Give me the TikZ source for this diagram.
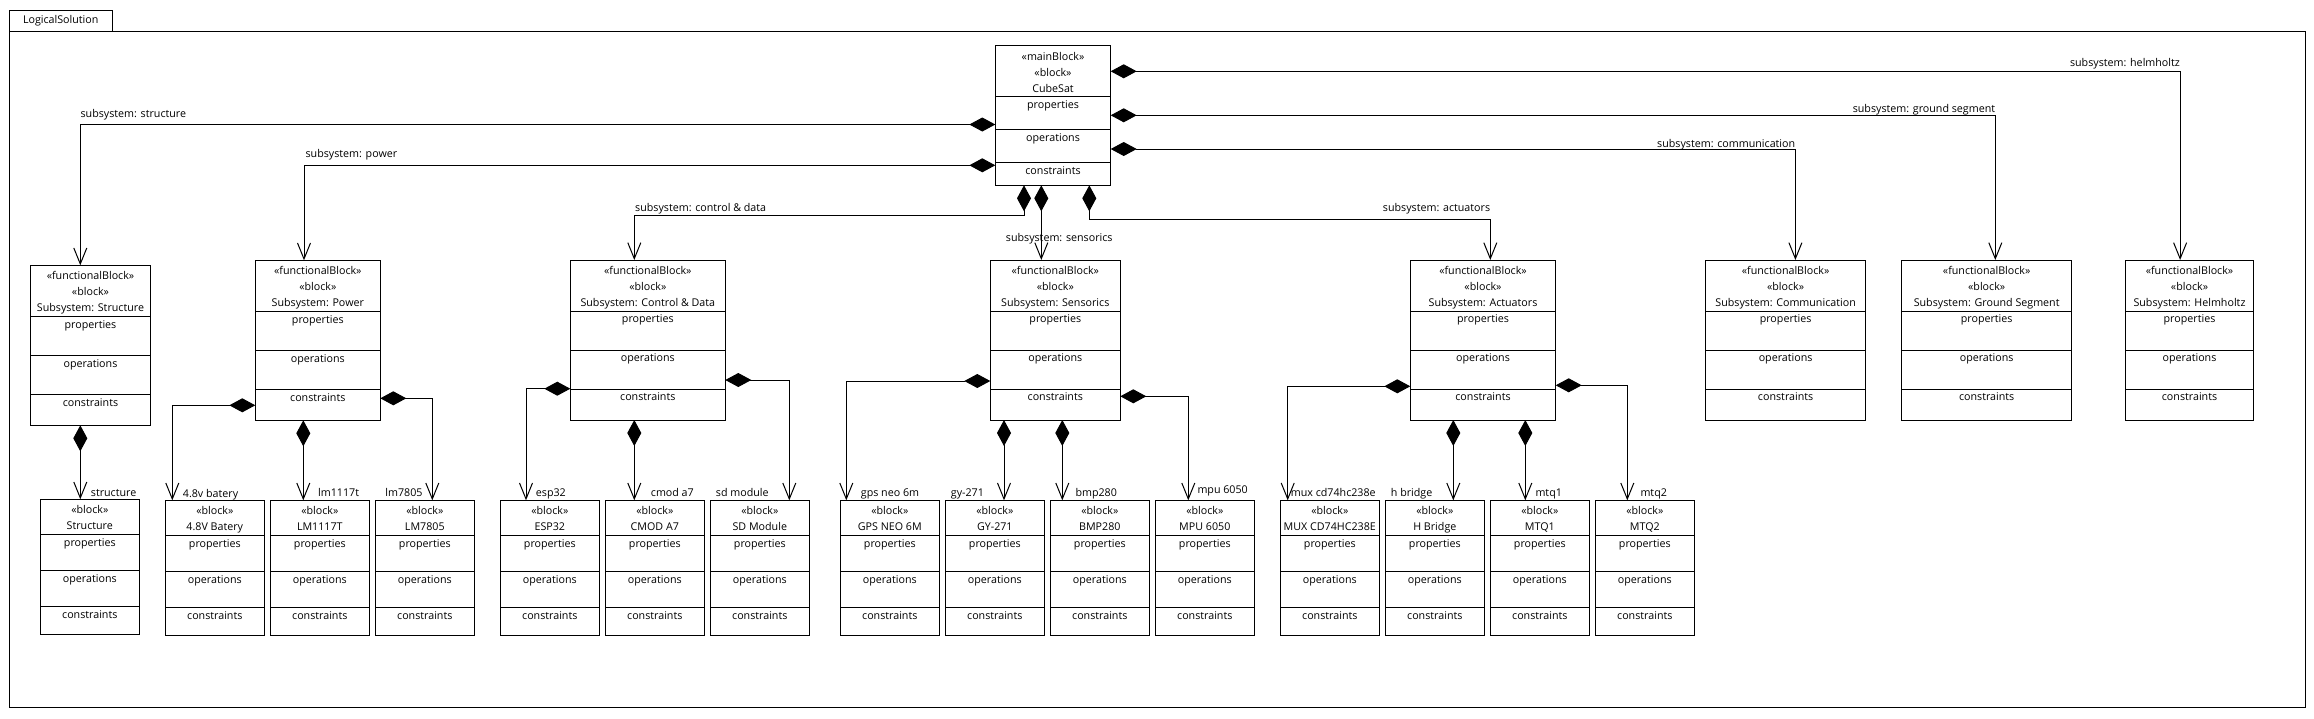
\documentclass[tikz,border=0pt]{standalone}
\usepackage{fontspec}
\setmainfont{Open Sans}
\usetikzlibrary{arrows.meta}
\tikzset{
  box/.style={draw, line width=1pt, rectangle, inner sep=0pt, outer sep=0pt},
  cline/.style={line width=1pt},
  txt/.style={inner sep=0pt, font=\fontsize{10.7}{12}\selectfont, text height=8pt, text depth=2.5pt},
  comp/.style={line width=1pt, {Diamond[length=26pt,width=14pt]}-{Straight Barb[length=16pt,width=13pt]}}
}
\newcommand{\fblk}[5]{%
  \node[box, minimum width=#4pt, minimum height=160pt, anchor=north west] (#1) at (#2,#3) {};
  \draw[cline] ([yshift=-51pt]#1.north west) -- ([yshift=-51pt]#1.north east);
  \draw[cline] ([yshift=-90pt]#1.north west) -- ([yshift=-90pt]#1.north east);
  \draw[cline] ([yshift=-129pt]#1.north west) -- ([yshift=-129pt]#1.north east);
  \node[txt] (#1-s1) at ([yshift=-11.5pt]#1.north) {«functionalBlock»};
  \node[txt] (#1-s2) at ([yshift=-27.5pt]#1.north) {«block»};
  \node[txt] (#1-n) at ([yshift=-43.5pt]#1.north) {#5};
  \node[txt] (#1-p) at ([yshift=-60pt]#1.north) {properties};
  \node[txt] (#1-o) at ([yshift=-99pt]#1.north) {operations};
  \node[txt] (#1-c) at ([yshift=-138pt]#1.north) {constraints};
}
\newcommand{\sblk}[4]{%
  \node[box, minimum width=99pt, minimum height=135pt, anchor=north west] (#1) at (#2,#3) {};
  \draw[cline] ([yshift=-35pt]#1.north west) -- ([yshift=-35pt]#1.north east);
  \draw[cline] ([yshift=-71pt]#1.north west) -- ([yshift=-71pt]#1.north east);
  \draw[cline] ([yshift=-107pt]#1.north west) -- ([yshift=-107pt]#1.north east);
  \node[txt] (#1-s1) at ([yshift=-11pt]#1.north) {«block»};
  \node[txt] (#1-n) at ([yshift=-27pt]#1.north) {#4};
  \node[txt] (#1-p) at ([yshift=-44pt]#1.north) {properties};
  \node[txt] (#1-o) at ([yshift=-80pt]#1.north) {operations};
  \node[txt] (#1-c) at ([yshift=-116pt]#1.north) {constraints};
}
\begin{document}
\begin{tikzpicture}[x=1pt,y=-1pt]
\useasboundingbox (0,0) rectangle (2314,718);
% frame
\node[box, minimum width=2295.5pt, minimum height=676.2pt, anchor=north west] (frame) at (9.5,31.3) {};
\node[box, minimum width=102.5pt, minimum height=21pt, anchor=south west] (tab) at (9.5,31.3) {};
\node[txt] (tabtxt) at (tab.center) {LogicalSolution};

% main block
\node[box, minimum width=115.4pt, minimum height=140pt, anchor=north west] (cube) at (995.3,45.3) {};
\draw[cline] ([yshift=-50.7pt]cube.north west) -- ([yshift=-50.7pt]cube.north east);
\draw[cline] ([yshift=-83.7pt]cube.north west) -- ([yshift=-83.7pt]cube.north east);
\draw[cline] ([yshift=-117pt]cube.north west) -- ([yshift=-117pt]cube.north east);
\node[txt] (cube-s1) at ([yshift=-12pt]cube.north) {«mainBlock»};
\node[txt] (cube-s2) at ([yshift=-28pt]cube.north) {«block»};
\node[txt] (cube-n) at ([yshift=-44pt]cube.north) {CubeSat};
\node[txt] (cube-p) at ([yshift=-60pt]cube.north) {properties};
\node[txt] (cube-o) at ([yshift=-93pt]cube.north) {operations};
\node[txt] (cube-c) at ([yshift=-126pt]cube.north) {constraints};

% subsystems
\fblk{sstruct}{30.3}{265.3}{120.4}{Subsystem: Structure}
\fblk{spower}{255.3}{260.3}{125}{Subsystem: Power}
\fblk{scd}{570.3}{260}{155}{Subsystem: Control \& Data}
\fblk{ssens}{990.3}{260}{130}{Subsystem: Sensorics}
\fblk{sact}{1410.3}{260}{145.4}{Subsystem: Actuators}
\fblk{scomm}{1705.6}{260}{160}{Subsystem: Communication}
\fblk{sgs}{1901.5}{260}{170.3}{Subsystem: Ground Segment}
\fblk{shelm}{2125.5}{260}{128}{Subsystem: Helmholtz}

% parts
\sblk{bstruct}{40.3}{499.3}{Structure}
\sblk{bbat}{165.3}{500.3}{4.8V Batery}
\sblk{blm1}{270.3}{500.3}{LM1117T}
\sblk{blm7}{375.3}{500.3}{LM7805}
\sblk{besp}{500.3}{500.3}{ESP32}
\sblk{bcmod}{605.3}{500.3}{CMOD A7}
\sblk{bsd}{710.3}{500.3}{SD Module}
\sblk{bgps}{840.3}{500.3}{GPS NEO 6M}
\sblk{bgy}{945.3}{500.3}{GY-271}
\sblk{bbmp}{1050.3}{500.3}{BMP280}
\sblk{bmpu}{1155.3}{500.3}{MPU 6050}
\sblk{bmux}{1280.3}{500.3}{MUX CD74HC238E}
\sblk{bhb}{1385.3}{500.3}{H Bridge}
\sblk{bmtq1}{1490.3}{500.3}{MTQ1}
\sblk{bmtq2}{1595.3}{500.3}{MTQ2}

% CubeSat compositions
\draw[comp] ([yshift=-9.2pt]cube.west) -| ([xshift=-10.2pt]sstruct.north);
\draw[comp] ([yshift=-50pt]cube.west) -| ([xshift=-13.8pt]spower.north);
\draw[comp] ([xshift=-29pt]cube.south) -- ++(0,29.7) -| ([xshift=-13.5pt]scd.north);
\draw[comp] ([xshift=-11.7pt]cube.south) -- ([xshift=-14pt]ssens.north);
\draw[comp] ([xshift=36.3pt]cube.south) -- ++(0,34) -| ([xshift=7.3pt]sact.north);
\draw[comp] ([yshift=-33.7pt]cube.east) -| ([xshift=9.8pt]scomm.north);
\draw[comp] (cube.east) -| ([xshift=8.65pt]sgs.north);
\draw[comp] ([yshift=44pt]cube.east) -| ([xshift=-9.4pt]shelm.north);

\node[txt, anchor=west] (l-struct) at (80.4,114.3) {subsystem: structure};
\node[txt, anchor=west] (l-power) at (305.4,155) {subsystem: power};
\node[txt, anchor=west] (l-cd) at (635,209) {subsystem: control \& data};
\node[txt, anchor=west] (l-sens) at (1005.7,239) {subsystem: sensorics};
\node[txt, anchor=east] (l-act) at (1490.3,209) {subsystem: actuators};
\node[txt, anchor=east] (l-comm) at (1795.4,144.3) {subsystem: communication};
\node[txt, anchor=east] (l-gs) at (1995.3,109.3) {subsystem: ground segment};
\node[txt, anchor=east] (l-helm) at (2180.1,64) {subsystem: helmholtz};

% structure
\draw[comp] ([xshift=-10.2pt]sstruct.south) -- ([xshift=-9.5pt]bstruct.north);
% power
\draw[comp] ([yshift=-65pt]spower.west) -| ([xshift=-42.5pt]bbat.north);
\draw[comp] ([xshift=-14.5pt]spower.south) -- ([xshift=-16.5pt]blm1.north);
\draw[comp] ([yshift=-58pt]spower.east) -| ([xshift=7.5pt]blm7.north);
% control & data
\draw[comp] ([yshift=-48.7pt]scd.west) -| ([xshift=-23.8pt]besp.north);
\draw[comp] ([xshift=-13.5pt]scd.south) -- ([xshift=-20.5pt]bcmod.north);
\draw[comp] ([yshift=-40pt]scd.east) -| ([xshift=29.5pt]bsd.north);
% sensorics
\draw[comp] ([yshift=-41pt]ssens.west) -| ([xshift=-43.5pt]bgps.north);
\draw[comp] ([xshift=-51.3pt]ssens.south) -- ([xshift=9.2pt]bgy.north);
\draw[comp] ([xshift=7pt]ssens.south) -- ([xshift=-37.5pt]bbmp.north);
\draw[comp] ([yshift=-56.3pt]ssens.east) -| ([xshift=-16.5pt]bmpu.north);
% actuators
\draw[comp] ([yshift=-46.3pt]sact.west) -| ([xshift=-42.1pt]bmux.north);
\draw[comp] ([xshift=-29.7pt]sact.south) -- ([xshift=18.5pt]bhb.north);
\draw[comp] ([xshift=42.3pt]sact.south) -- ([xshift=-14.5pt]bmtq1.north);
\draw[comp] ([yshift=-45.3pt]sact.east) -| ([xshift=-17.5pt]bmtq2.north);

% part labels
\node[txt, anchor=west] (r-struct) at (90.7,494) {structure};
\node[txt, anchor=west] (r-bat) at (182.7,495) {4.8v batery};
\node[txt, anchor=west] (r-lm1) at (318,494) {lm1117t};
\node[txt, anchor=east] (r-lm7) at (422.7,494) {lm7805};
\node[txt, anchor=west] (r-esp) at (535.7,493.7) {esp32};
\node[txt, anchor=west] (r-cmod) at (650.7,493.7) {cmod a7};
\node[txt, anchor=west] (r-sd) at (715.7,493.7) {sd module};
\node[txt, anchor=west] (r-gps) at (860.7,494) {gps neo 6m};
\node[txt, anchor=west] (r-gy) at (950.7,494) {gy-271};
\node[txt, anchor=west] (r-bmp) at (1075.3,494) {bmp280};
\node[txt, anchor=west] (r-mpu) at (1197.3,491) {mpu 6050};
\node[txt, anchor=west] (r-mux) at (1290.7,494) {mux cd74hc238e};
\node[txt, anchor=west] (r-hb) at (1390.7,494) {h bridge};
\node[txt, anchor=west] (r-mtq1) at (1535.3,494) {mtq1};
\node[txt, anchor=west] (r-mtq2) at (1640.3,494) {mtq2};
\end{tikzpicture}
\end{document}
